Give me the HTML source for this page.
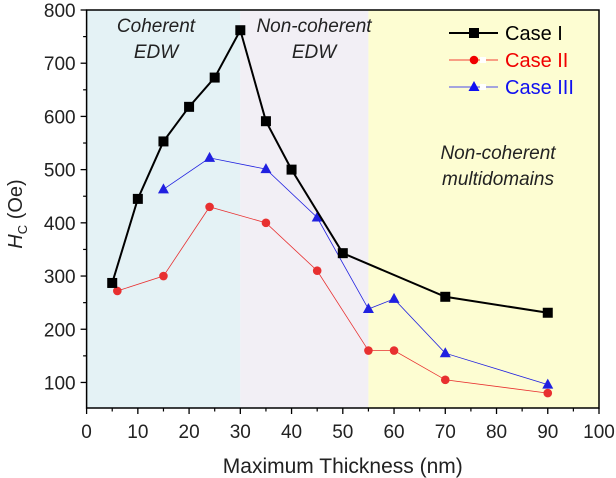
<!DOCTYPE html>
<html><head><meta charset="utf-8"><style>
html,body{margin:0;padding:0;background:#fff;}
svg{display:block;font-family:"Liberation Sans",Arial,sans-serif;}
</style></head><body>
<svg id="chart" width="616" height="478"></svg>
<script>
const xTicks=[0,10,20,30,40,50,60,70,80,90,100];
const yTicks=[100,200,300,400,500,600,700,800];
const regionBounds=[0,30,55,100];
const regionColors=['#e4f2f5','#f2eff5','#fdfdd2'];
const case1X=[5,10,15,20,25,30,35,40,50,70,90];
const case1Y=[287,445,553,618,673,762,591,500,343,261,231];
const case2X=[6,15,24,35,45,55,60,70,90];
const case2Y=[272,300,430,400,310,160,160,105,80];
const case3X=[15,24,35,45,55,60,70,90];
const case3Y=[463,522,501,410,238,257,155,96];

const L=86.6,R=599,T=10,B=408;
const x=v=>L+(v-0)/100*(R-L);
const y=v=>T+(800-v)/(800-52)*(B-T);
const NS='http://www.w3.org/2000/svg';
const svg=document.getElementById('chart');
function mk(tag,attrs,parent){const e=document.createElementNS(NS,tag);for(const k in attrs)e.setAttribute(k,attrs[k]);(parent||svg).appendChild(e);return e;}

for(let i=0;i<3;i++){
  const r=mk('rect',{x:x(regionBounds[i]),y:T,width:x(regionBounds[i+1])-x(regionBounds[i]),height:B-T,fill:regionColors[i]});
  
  
}
function label(txt,cx,cy,name){const t=mk('text',{x:cx,y:cy,'text-anchor':'middle','font-size':'19','font-style':'italic',fill:'#222'});t.textContent=txt;}
label('Coherent',156,32,'region-label-coherent');
label('EDW',156,58,'region-label-coherent-edw');
label('Non-coherent',314,32,'region-label-noncoherent');
label('EDW',314,58,'region-label-noncoherent-edw');
label('Non-coherent',498,159,'region-label-multi');
label('multidomains',498,185,'region-label-multidomains');

const f=mk('rect',{x:L,y:T,width:R-L,height:B-T,fill:'none',stroke:'#000','stroke-width':1.5});

xTicks.forEach(v=>{
  mk('line',{x1:x(v),x2:x(v),y1:B,y2:B+6,stroke:'#000','stroke-width':1.3});
  if(v<100)mk('line',{x1:x(v+5),x2:x(v+5),y1:B,y2:B+3.5,stroke:'#000','stroke-width':1.2});
  const t=mk('text',{x:x(v),y:B+30,'text-anchor':'middle','font-size':'19',fill:'#222'});t.textContent=v;
  
});
yTicks.forEach(v=>{
  mk('line',{x1:L-6,x2:L,y1:y(v),y2:y(v),stroke:'#000','stroke-width':1.3});
  if(v>100)mk('line',{x1:L-3.5,x2:L,y1:y(v-50),y2:y(v-50),stroke:'#000','stroke-width':1.2});
  const t=mk('text',{x:L-11,y:y(v)+7,'text-anchor':'end','font-size':'19',fill:'#222'});t.textContent=v;
  
});
const xt=mk('text',{x:(L+R)/2,y:473,'text-anchor':'middle','font-size':'21',fill:'#222'});xt.textContent='Maximum Thickness (nm)';

const yt=mk('text',{transform:'translate(22,214) rotate(-90)','text-anchor':'middle','font-size':'20',fill:'#222'});
yt.innerHTML='<tspan font-style="italic">H</tspan><tspan font-size="13" dy="5">C</tspan><tspan dy="-5"> (Oe)</tspan>';


function marker(kind,px,py,color,g){
  if(kind==='sq')return mk('rect',{x:px-5,y:py-5,width:10,height:10,fill:color},g);
  if(kind==='ci')return mk('circle',{cx:px,cy:py,r:4.3,fill:color},g);
  return mk('polygon',{points:`${px},${py-6} ${px-5.5},${py+4} ${px+5.5},${py+4}`,fill:color},g);
}
function series(xs,ys,color,w,kind,name){
  const g=mk('g',{});
  mk('polyline',{points:xs.map((v,i)=>x(v)+','+y(ys[i])).join(' '),fill:'none',stroke:color,'stroke-width':w},g);
  xs.forEach((v,i)=>{const m=marker(kind,x(v),y(ys[i]),color,g);});
}
series(case2X,case2Y,'#e83030',0.8,'ci','case-ii-series');
series(case3X,case3Y,'#2020e0',0.8,'tr','case-iii-series');
series(case1X,case1Y,'#000',2,'sq','case-i-series');

const leg=[['Case I','#000',2,'sq'],['Case II','#f00000',0.8,'ci'],['Case III','#1010f0',0.8,'tr']];
leg.forEach((d,i)=>{
  const g=mk('g',{});
  const ly=33+i*27;
  mk('line',{x1:449,x2:498,y1:ly,y2:ly,stroke:d[1],'stroke-width':d[2]},g);
  if(i>0)mk('rect',{x:480,y:ly-3,width:6,height:6,fill:'#fff'},g);
  marker(d[3],474,ly,d[1],g);
  const t=mk('text',{x:505,y:ly+7,'font-size':'20',fill:d[1]},g);t.textContent=d[0];
});
</script>
</body></html>
